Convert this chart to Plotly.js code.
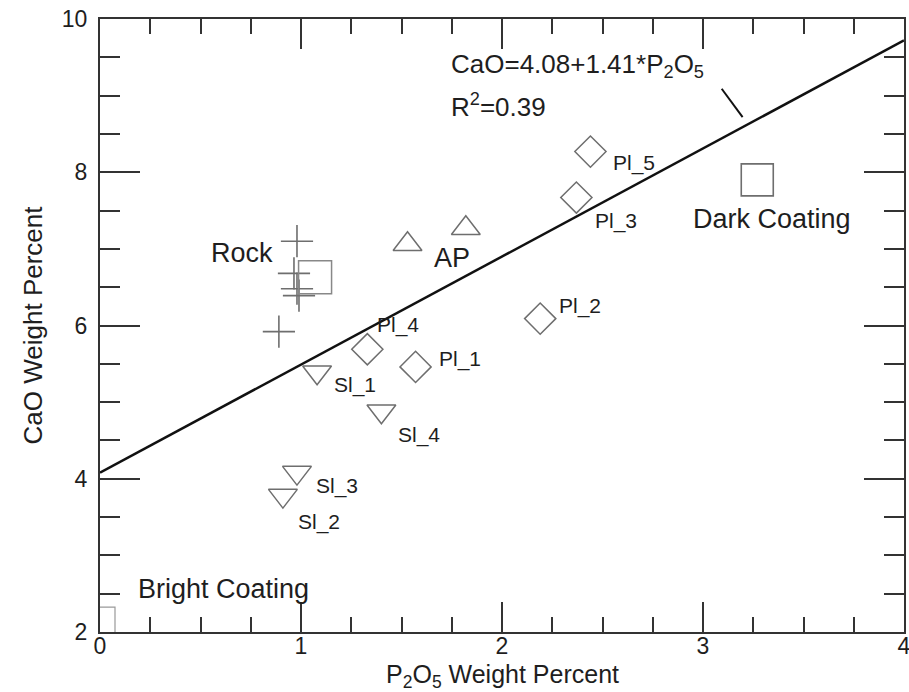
<!DOCTYPE html>
<html>
<head>
<meta charset="utf-8">
<script src="https://cdn.plot.ly/plotly-3.0.1.min.js"></script>
<style>html,body{margin:0;padding:0;background:#fff;}#chart{width:909px;height:692px;}</style>
</head>
<body>
<div id="chart"></div>
<script>
// ---- data ----
const rockX = [0.98, 0.965, 0.98, 0.99, 0.89];
const rockY = [7.10, 6.68, 6.48, 6.39, 5.92];
const rockSqX = [1.07];
const rockSqY = [6.63];
const apX = [1.53, 1.82];
const apY = [7.06, 7.27];
const plNames = ["Pl_1", "Pl_2", "Pl_3", "Pl_4", "Pl_5"];
const plX = [1.57, 2.19, 2.37, 1.33, 2.44];
const plY = [5.46, 6.09, 7.67, 5.69, 8.27];
const slNames = ["Sl_1", "Sl_2", "Sl_3", "Sl_4"];
const slX = [1.08, 0.91, 0.98, 1.40];
const slY = [5.39, 3.78, 4.08, 4.88];
const darkX = [3.27];
const darkY = [7.90];
const brightX = [0.0];
const brightY = [2.13];
const fitX = [0, 4];
const fitY = [4.08, 9.72];
const xTicks = [0, 1, 2, 3, 4];
const yTicks = [2, 4, 6, 8, 10];
const xTitle = "P<sub>2</sub>O<sub>5</sub> Weight Percent";
const yTitle = "CaO Weight Percent";

// label offsets in pixels (positions, kept apart from data)
const plOffsets = [[44, 8], [40, 13], [40, -23], [31, 24], [44, -11]];
const slOffsets = [[38, -13], [36, -26], [40, -13], [38, -24]];

const FONT = "Liberation Sans, Arial, Helvetica, sans-serif";
const INK = "#1e1e1e";
const MK = "#6e6e6e";

const traces = [
  {x: fitX, y: fitY, mode: "lines", line: {color: "#111", width: 2.5}, hoverinfo: "skip"},
  {x: rockX, y: rockY, mode: "markers", marker: {symbol: "cross-thin-open", size: 23, color: MK, line: {color: MK, width: 1.6}}},
  {x: rockSqX, y: rockSqY, mode: "markers", marker: {symbol: "square-open", size: 33, color: "#888", line: {color: "#888", width: 1.5}}},
  {x: apX, y: apY, mode: "markers", marker: {symbol: "triangle-up-open", size: 25, color: MK, line: {color: MK, width: 1.5}}},
  {x: plX, y: plY, mode: "markers", marker: {symbol: "diamond-open", size: 24, color: MK, line: {color: MK, width: 1.5}}},
  {x: slX, y: slY, mode: "markers", marker: {symbol: "triangle-down-open", size: 25, color: MK, line: {color: MK, width: 1.5}}},
  {x: darkX, y: darkY, mode: "markers", marker: {symbol: "square-open", size: 32, color: MK, line: {color: MK, width: 1.6}}},
  {x: brightX, y: brightY, mode: "markers", marker: {symbol: "square-open", size: 30, color: "#999", line: {color: "#999", width: 1.2}}}
];

const annotations = [];
plNames.forEach((n, i) => annotations.push({
  x: plX[i], y: plY[i], text: n, showarrow: false, xshift: plOffsets[i][0], yshift: plOffsets[i][1],
  font: {family: FONT, size: 21, color: INK}
}));
slNames.forEach((n, i) => annotations.push({
  x: slX[i], y: slY[i], text: n, showarrow: false, xshift: slOffsets[i][0], yshift: slOffsets[i][1],
  font: {family: FONT, size: 21, color: INK}
}));
const bigFont = {family: FONT, size: 27, color: INK};
annotations.push({x: 0.705, y: 6.95, text: "Rock", showarrow: false, font: bigFont});
annotations.push({x: 1.75, y: 6.88, text: "AP", showarrow: false, font: bigFont});
annotations.push({x: 3.345, y: 7.39, text: "Dark Coating", showarrow: false, font: bigFont});
annotations.push({x: 0.612, y: 2.56, text: "Bright Coating", showarrow: false, font: bigFont});
annotations.push({x: 1.736, y: 9.39, xanchor: "left", text: "CaO=4.08+1.41*P<sub>2</sub>O<sub>5</sub>", showarrow: false, font: {family: FONT, size: 26, color: INK}});
annotations.push({x: 1.736, y: 8.87, xanchor: "left", text: "R<sup>2</sup>=0.39", showarrow: false, font: {family: FONT, size: 26, color: INK}});
// x axis title placed as paper annotation for exact position
annotations.push({xref: "paper", yref: "paper", x: 0.5, y: -0.044, xanchor: "center", yanchor: "top",
  text: xTitle, showarrow: false, borderpad: 0, font: {family: FONT, size: 25, color: INK}});

const axCommon = {
  showgrid: false, zeroline: false, showline: true, linecolor: "#333", linewidth: 2,
  mirror: "ticks", ticks: "inside", tickcolor: "#333", tickwidth: 2,
  tickfont: {family: FONT, size: 23, color: INK}
};

const layout = {
  width: 909, height: 692,
  margin: {l: 100, r: 5, t: 19, b: 60},
  paper_bgcolor: "#fff", plot_bgcolor: "#fff",
  showlegend: false,
  xaxis: Object.assign({}, axCommon, {
    range: [0, 4], tickvals: xTicks, ticktext: xTicks.map(String), ticklen: 30,
    minor: {dtick: 0.25, ticks: "inside", ticklen: 15, tickcolor: "#333", tickwidth: 2, showgrid: false},
    ticklabelstandoff: -8, ticklabeloverflow: "allow",
    automargin: false
  }),
  yaxis: Object.assign({}, axCommon, {
    range: [2, 10], tickvals: yTicks, ticktext: yTicks.map(String), ticklen: 40,
    minor: {dtick: 0.5, ticks: "inside", ticklen: 20, tickcolor: "#333", tickwidth: 2, showgrid: false},
    ticklabelstandoff: 6, ticklabeloverflow: "allow",
    automargin: false,
    title: {text: yTitle, font: {family: FONT, size: 26, color: INK}, standoff: 12}
  }),
  shapes: [{type: "line", xref: "x", yref: "y", x0: 3.093, y0: 9.09, x1: 3.197, y1: 8.72, line: {color: "#111", width: 2}}],
  annotations: annotations
};

Plotly.newPlot("chart", traces, layout, {displayModeBar: false, staticPlot: true});
</script>
</body>
</html>
